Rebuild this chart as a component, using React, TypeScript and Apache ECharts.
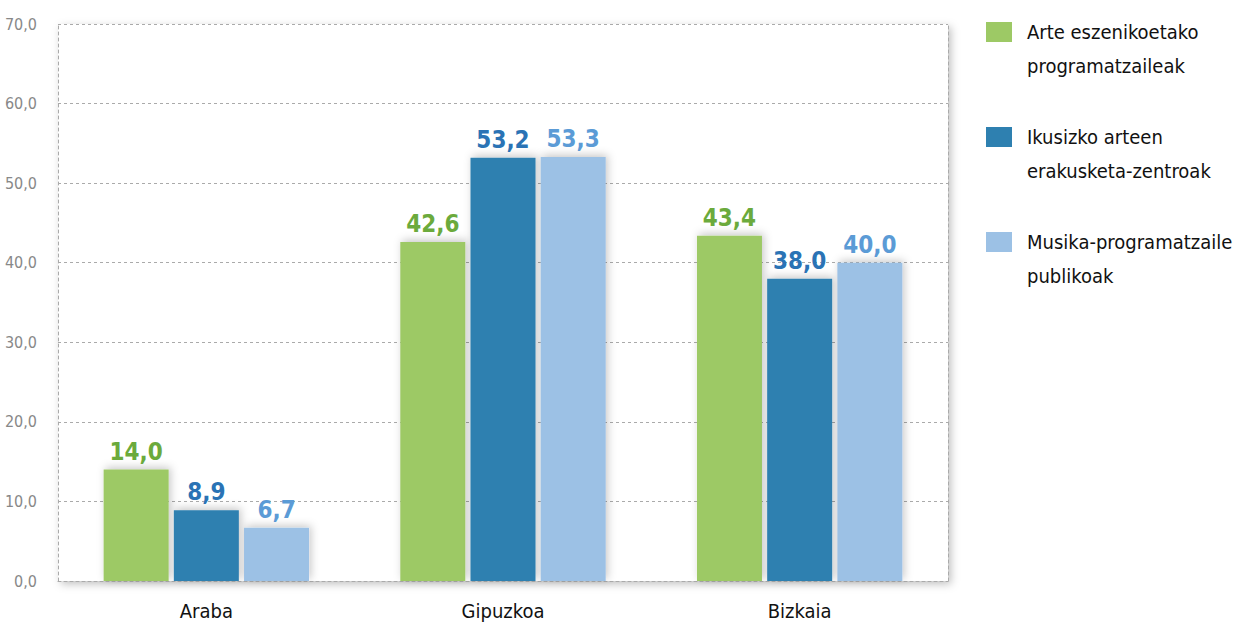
import React, { useEffect, useRef } from "react";
import * as echarts from "echarts";

const categories = ["Araba", "Gipuzkoa", "Bizkaia"];
const seriesNames = [
  "Arte eszenikoetako\nprogramatzaileak",
  "Ikusizko arteen\nerakusketa-zentroak",
  "Musika-programatzaile\npublikoak",
];
const seriesValues = [
  [14.0, 42.6, 43.4],
  [8.9, 53.2, 38.0],
  [6.7, 53.3, 40.0],
];
const barColors = ["#9DC965", "#2E80B0", "#9CC1E5"];
const labelColors = ["#6BAA3C", "#2A73B5", "#5B9BD6"];
const yTicks = [0, 10, 20, 30, 40, 50, 60, 70];

const FONT = "'DejaVu Sans Condensed', 'Liberation Sans Narrow', sans-serif";

export default function App() {
  const ref = useRef<HTMLDivElement>(null);
  useEffect(() => {
    const chart = echarts.init(ref.current!, undefined, { renderer: "svg" });
    const fmt = (v: number) => v.toFixed(1).replace(".", ",");
    const legendGraphics: any[] = [];
    seriesNames.forEach((name, i) => {
      legendGraphics.push({
        type: "rect",
        left: 986,
        top: 22 + i * 105,
        shape: { width: 26, height: 20 },
        style: { fill: barColors[i] },
      });
      legendGraphics.push({
        type: "text",
        left: 1027,
        top: 15 + i * 105,
        style: {
          text: name,
          font: `20px ${FONT}`,
          fill: "#111",
          lineHeight: 34,
        },
      });
    });
    chart.setOption({
      animation: false,
      grid: {
        left: 58,
        right: 307,
        top: 24,
        bottom: 46,
        show: true,
        backgroundColor: "#fff",
        borderWidth: 0,
        shadowBlur: 8,
        shadowColor: "rgba(0,0,0,0.25)",
        shadowOffsetX: 3,
        shadowOffsetY: 3,
      },
      legend: { show: false },
      xAxis: {
        type: "category",
        data: categories,
        axisTick: { show: false },
        axisLine: { show: true, lineStyle: { color: "#aaa", type: [3, 3], width: 1 } },
        axisLabel: { color: "#111", fontSize: 20, fontFamily: FONT, margin: 20 },
      },
      yAxis: [
        {
          type: "value",
          min: 0,
          max: 70,
          interval: 10,
          axisLine: { show: true, lineStyle: { color: "#aaa", type: [3, 3], width: 1 } },
          axisTick: { show: false },
          splitLine: { show: true, lineStyle: { color: "#aaa", type: [3, 3], width: 1 } },
          axisLabel: {
            color: "#888",
            fontSize: 16,
            fontFamily: FONT,
            margin: 21,
            formatter: (v: number) => (yTicks.includes(v) ? fmt(v) : ""),
          },
        },
        {
          type: "value",
          min: 0,
          max: 70,
          interval: 10,
          position: "right",
          axisLine: { show: true, lineStyle: { color: "#aaa", type: [3, 3], width: 1 } },
          axisTick: { show: false },
          splitLine: { show: false },
          axisLabel: { show: false },
        },
      ],
      series: seriesValues.map((vals, i) => ({
        type: "bar",
        name: seriesNames[i],
        data: vals,
        barWidth: 65,
        barGap: "8%",
        itemStyle: {
          color: barColors[i],
          shadowBlur: 8,
          shadowColor: "rgba(0,0,0,0.22)",
          shadowOffsetX: 2,
          shadowOffsetY: -2,
        },
        label: {
          show: true,
          position: "top",
          distance: 6,
          color: labelColors[i],
          fontSize: 24,
          fontWeight: "bold",
          fontFamily: FONT,
          formatter: (p: any) => fmt(p.value),
        },
      })),
      graphic: legendGraphics,
    });
    return () => chart.dispose();
  }, []);
  return (
    <div
      ref={ref}
      style={{ position: "absolute", left: 0, top: 0, width: 1255, height: 627 }}
    />
  );
}
